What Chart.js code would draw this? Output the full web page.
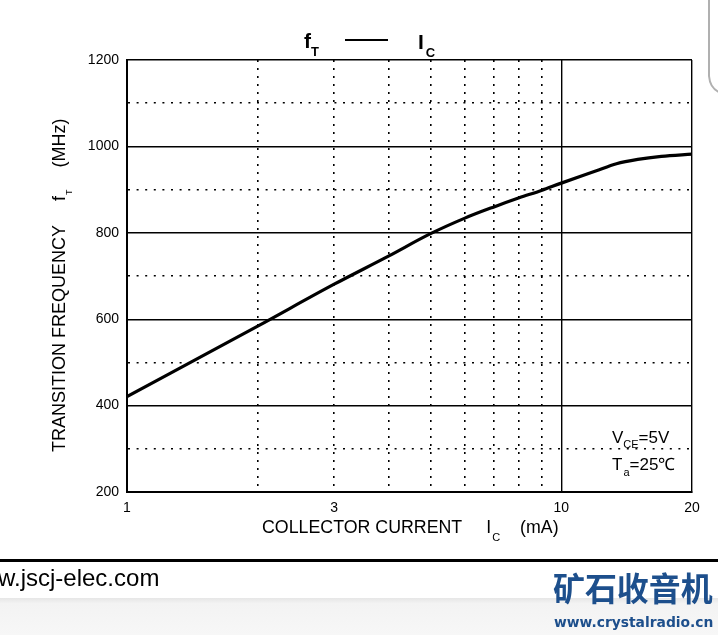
<!DOCTYPE html>
<html>
<head>
<meta charset="utf-8">
<script src="https://cdn.jsdelivr.net/npm/chart.js@4.4.1/dist/chart.umd.min.js"></script>
<style>
  html, body { margin: 0; padding: 0; background: #fff; }
  #wrap { width: 718px; height: 635px; position: relative; }
</style>
</head>
<body>
<div id="wrap"><canvas id="chart" width="718" height="635"></canvas></div>
<script>
// collector current (mA) and transition frequency (MHz)
const currentMA = [1, 2, 3, 4, 5, 6, 7, 8, 9, 10, 12, 13.4, 15, 17, 20];
const freqMHz = [421, 584, 681, 746, 798, 834, 860, 881, 898, 915, 943, 960, 970, 977, 982];

const xGridValues = [1, 2, 3, 4, 5, 6, 7, 8, 9, 10, 20];
const xTickLabels = [1, 3, 10, 20];
const yTickLabels = [200, 400, 600, 800, 1000, 1200];

const FONT = "'Liberation Sans', Arial, sans-serif";

// draw a run of text pieces (with subscripts) starting at x
function drawRich(ctx, parts, x, y) {
    parts.forEach(p => {
        ctx.font = p.font;
        ctx.fillText(p.t, x + (p.dx || 0), y + (p.dy || 0));
        x += ctx.measureText(p.t).width + (p.dx || 0);
    });
}

const decorations = {
    id: "decorations",
    beforeDraw(chart) {
        const ctx = chart.ctx;
        ctx.save();
        ctx.fillStyle = "#fff";
        ctx.fillRect(0, 0, chart.width, chart.height);
        // grey band at the bottom
        const g = ctx.createLinearGradient(0, 598, 0, 635);
        g.addColorStop(0, "#e6e6e6");
        g.addColorStop(0.15, "#f3f3f3");
        g.addColorStop(1, "#f7f7f7");
        ctx.fillStyle = g;
        ctx.fillRect(0, 598, chart.width, 37);
        ctx.restore();
    },
    afterDraw(chart) {
        const ctx = chart.ctx;
        ctx.save();
        ctx.fillStyle = "#000";
        ctx.textBaseline = "alphabetic";

        // title
        drawRich(ctx, [
            { t: "f", font: "bold 21px " + FONT },
            { t: "T", font: "bold 13px " + FONT, dy: 8 }
        ], 304, 48);
        ctx.lineWidth = 2;
        ctx.strokeStyle = "#000";
        ctx.beginPath();
        ctx.moveTo(345, 40);
        ctx.lineTo(388, 40);
        ctx.stroke();
        drawRich(ctx, [
            { t: "I", font: "bold 21px " + FONT },
            { t: "C", font: "bold 13px " + FONT, dy: 8, dx: 2 }
        ], 418, 49);

        // x axis title
        drawRich(ctx, [
            { t: "COLLECTOR CURRENT", font: "17.8px " + FONT },
            { t: "I", font: "17.8px " + FONT, dx: 24 },
            { t: "C", font: "11px " + FONT, dy: 8, dx: 1 },
            { t: "(mA)", font: "17.8px " + FONT, dx: 20 }
        ], 262, 533);

        // y axis title
        ctx.save();
        ctx.translate(65, 452);
        ctx.rotate(-Math.PI / 2);
        drawRich(ctx, [
            { t: "TRANSITION FREQUENCY", font: "18px " + FONT },
            { t: "f", font: "18px " + FONT, dx: 24 },
            { t: "T", font: "9px " + FONT, dy: 7, dx: 1 },
            { t: "(MHz)", font: "18px " + FONT, dx: 22 }
        ], 0, 0);
        ctx.restore();

        // conditions box
        drawRich(ctx, [
            { t: "V", font: "17px " + FONT },
            { t: "CE", font: "11px " + FONT, dy: 5 },
            { t: "=5V", font: "17px " + FONT }
        ], 612, 443);
        drawRich(ctx, [
            { t: "T", font: "17px " + FONT },
            { t: "a", font: "11px " + FONT, dy: 6, dx: 1 },
            { t: "=25℃", font: "17px " + FONT }
        ], 612, 470);

        // footer
        ctx.fillRect(0, 559, chart.width, 3);
        ctx.font = "24px " + FONT;
        ctx.fillText("w.jscj-elec.com", -2, 586);

        ctx.fillStyle = "#1d4f8c";
        ctx.font = "bold 31px 'Noto Sans CJK SC', sans-serif";
        ctx.save();
        ctx.translate(553, 601);
        ctx.scale(1.03, 1.05);
        ctx.fillText("矿石收音机", 0, 0);
        ctx.restore();
        ctx.save();
        ctx.font = "bold 14px 'DejaVu Sans Condensed', " + FONT;
        ctx.translate(554, 627);
        ctx.scale(1.1, 1);
        ctx.fillText("www.crystalradio.cn", 0, 0);
        ctx.restore();

        // phone screen corner
        ctx.strokeStyle = "#b0b0b0";
        ctx.lineWidth = 2;
        ctx.beginPath();
        ctx.moveTo(709, 0);
        ctx.lineTo(709, 76);
        ctx.quadraticCurveTo(710, 88, 719, 92);
        ctx.stroke();
        ctx.restore();
    }
};

new Chart(document.getElementById("chart"), {
    type: "line",
    data: {
        datasets: [{
            data: currentMA.map((c, i) => ({ x: c, y: freqMHz[i] })),
            borderColor: "#000",
            borderWidth: 3.2,
            pointRadius: 0,
            cubicInterpolationMode: "monotone",
            fill: false
        }]
    },
    options: {
        responsive: false,
        animation: false,
        devicePixelRatio: 1,
        layout: { padding: { left: 0, top: 60, right: 26, bottom: 0 } },
        plugins: {
            legend: { display: false },
            tooltip: { enabled: false },
            title: { display: false }
        },
        scales: {
            x: {
                type: "logarithmic",
                min: 1,
                max: 20,
                afterFit: s => { s.height = 143; },
                afterBuildTicks: s => { s.ticks = xGridValues.map(v => ({ value: v })); },
                ticks: {
                    autoSkip: false,
                    maxRotation: 0,
                    padding: 8,
                    color: "#000",
                    font: { family: FONT, size: 14 },
                    callback: v => xTickLabels.includes(v) ? String(v) : ""
                },
                grid: {
                    drawTicks: false,
                    color: "#000",
                    lineWidth: c => (c.tick && c.tick.value === 10) || (c.tick && c.tick.value === 20) ? 1.4 : 1.6
                },
                border: {
                    display: true,
                    color: "#000",
                    width: 2,
                    dash: c => c.tick && c.tick.value !== 10 && c.tick.value !== 20 && c.tick.value !== 1 ? [2, 6] : []
                }
            },
            y: {
                min: 200,
                max: 1200,
                afterFit: s => { s.width = 127; },
                ticks: {
                    stepSize: 100,
                    padding: 8,
                    color: "#000",
                    font: { family: FONT, size: 14 },
                    callback: v => yTickLabels.includes(v) ? String(v) : ""
                },
                grid: {
                    drawTicks: false,
                    color: "#000",
                    lineWidth: c => c.tick && c.tick.value % 200 === 0 ? 1.4 : 1.6
                },
                border: {
                    display: true,
                    color: "#000",
                    width: 2,
                    dash: c => c.tick && c.tick.value % 200 !== 0 ? [2, 6.6] : []
                }
            }
        }
    },
    plugins: [decorations]
});
</script>
</body>
</html>
